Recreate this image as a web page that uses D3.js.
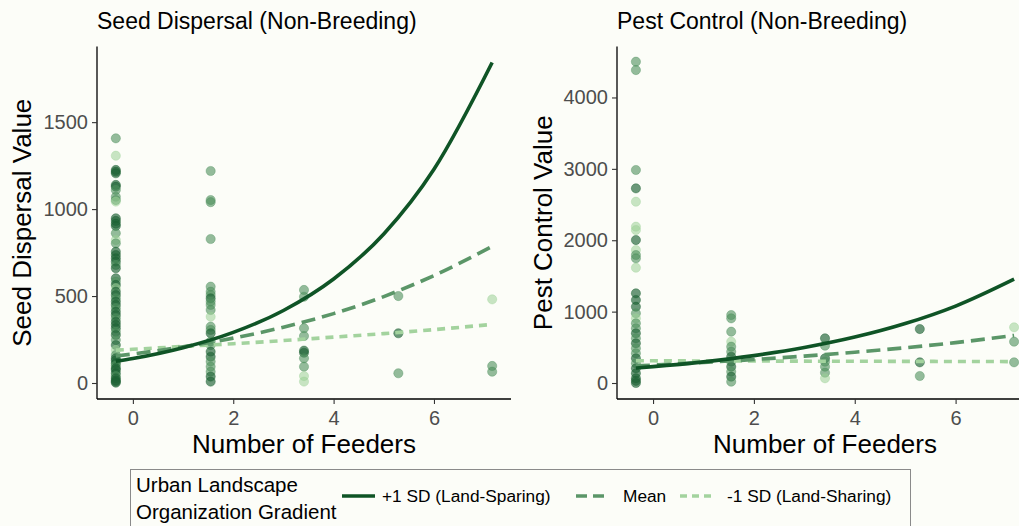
<!DOCTYPE html>
<html><head><meta charset="utf-8">
<script src="https://cdn.jsdelivr.net/npm/d3@7"></script>
<style>
html,body{margin:0;padding:0;background:#fcfdf8;}
svg{display:block;font-family:"Liberation Sans",Arial,sans-serif;}
</style></head>
<body>
<svg id="chart" width="1019" height="526"></svg>
<script>
// ---- DATA ----
const feederLevels = [-0.34, 1.55, 3.41, 5.29, 7.16];
// points per feeder level: [value, shade] shade 0=dark(+1SD),1=mid(mean),2=light(-1SD)
const seedCols = [
  [[1407,1],[1307,2],[1225,0],[1215,0],[1206,0],[1139,0],[1129,0],[1110,1],[1071,1],[1052,1],[1043,2],
   [947,0],[932,0],[916,0],[903,0],[861,1],[822,2],[803,1],[755,0],[736,0],[717,0],[698,0],[679,1],[660,0],
   [602,0],[583,1],[564,0],[545,2],[525,0],[506,0],[487,1],[468,0],[449,0],[430,1],[410,0],[391,0],
   [372,1],[352,0],[334,0],[315,0],[295,1],[276,0],[247,1],[218,0],[190,2],[161,1],[142,0],[130,0],[113,0],
   [100,1],[85,0],[75,0],[56,0],[40,1],[27,0],[15,0],[8,0],[2,0]],
  [[1219,1],[1052,1],[1040,1],[828,1],[554,1],[525,1],[506,1],[487,0],[468,1],[449,1],[420,1],[381,2],
   [324,1],[305,1],[286,0],[238,1],[218,1],[180,0],[151,0],[123,1],[94,1],[65,1],[37,0],[8,0]],
  [[535,1],[496,1],[315,1],[270,1],[186,0],[174,0],[142,1],[94,1],[40,2],[8,2]],
  [[500,1],[286,0],[56,1]],
  [[481,2],[98,1],[65,1]]
];
const pestCols = [
  [[4501,1],[4384,1],[2984,1],[2727,0],[2540,2],[2190,2],[2143,2],[2003,0],[1863,2],[1793,1],[1747,1],[1615,2],
   [1256,0],[1163,0],[1069,0],[976,1],[906,2],[836,1],[766,1],[696,0],[626,1],[556,0],[486,1],[416,1],
   [346,0],[276,1],[206,0],[136,0],[66,0],[30,0],[0,0]],
  [[952,1],[906,1],[719,1],[579,2],[509,1],[439,1],[368,0],[299,1],[229,0],[159,1],[89,0],[19,1]],
  [[626,0],[523,1],[346,0],[299,1],[229,1],[145,1],[66,2]],
  [[756,0],[290,0],[98,1]],
  [[780,2],[579,1],[290,1]]
];
// fitted curves
const curveX = [-0.34, 0, 1, 2, 3, 4, 5, 6, 7.16];
const seedPlus  = [125, 141, 203, 291, 417, 598, 857, 1229, 1843];
const seedMean  = [155, 167, 208, 258, 321, 399, 497, 618, 786];
const seedMinus = [189, 194, 210, 226, 244, 264, 284, 307, 337];
const pestPlus  = [210, 229, 296, 384, 497, 643, 833, 1078, 1455];
const pestMean  = [240, 251, 288, 329, 377, 432, 494, 566, 666];
const pestMinus = [312, 311, 309, 308, 306, 305, 303, 302, 300];
const xTicks = [0, 2, 4, 6];
const seedYTicks = [0, 500, 1000, 1500];
const pestYTicks = [0, 1000, 2000, 3000, 4000];
const legendLabels = ["+1 SD (Land-Sparing)", "Mean", "-1 SD (Land-Sharing)"];

// ---- STYLE ----
const lineColors = ["#0f5426", "#5b9668", "#a3d39e"];
const lineDash = [null, "14,7", "8,6"];
const ptColors = ["#1d6234", "#4d8f5c", "#9bd096"];
const ptOpacity = [0.65, 0.6, 0.55];

const svg = d3.select("#chart");
svg.append("rect").attr("width",1019).attr("height",526).attr("fill","#fcfdf8");

function panel(opts){
  const {x0,x1,yDomain,cols,curves,yTicks,title,yTitle,yTitleX} = opts;
  const top = 46.5, bottom = 399;
  const x = d3.scaleLinear().domain([-0.715, 7.535]).range([x0, x1]);
  const y = d3.scaleLinear().domain(yDomain).range([bottom, top]);
  const g = svg.append("g");
  const pts = [];
  cols.forEach((c,i)=>c.forEach(p=>pts.push({x:feederLevels[i], y:p[0], s:p[1]})));
  g.selectAll("circle").data(pts).join("circle")
    .attr("cx",d=>x(d.x)).attr("cy",d=>y(d.y)).attr("r",4.6)
    .attr("fill",d=>ptColors[d.s]).attr("fill-opacity",d=>ptOpacity[d.s])
    .attr("stroke",d=>ptColors[d.s]).attr("stroke-opacity",d=>ptOpacity[d.s]*0.8).attr("stroke-width",0.8);
  const line = d3.line().x(d=>x(d[0])).y(d=>y(d[1])).curve(d3.curveMonotoneX);
  [2,1,0].forEach(k=>{
    g.append("path").datum(curveX.map((v,i)=>[v, curves[k][i]]))
      .attr("d",line).attr("fill","none").attr("stroke",lineColors[k])
      .attr("stroke-width",3.6).attr("stroke-dasharray",lineDash[k]);
  });
  const fmt = d3.format("d");
  const ax = g.append("g").attr("transform",`translate(0,${bottom})`)
    .call(d3.axisBottom(x).tickValues(xTicks).tickFormat(fmt).tickSize(5).tickPadding(7).tickSizeOuter(0));
  const ay = g.append("g").attr("transform",`translate(${x0},0)`)
    .call(d3.axisLeft(y).tickValues(yTicks).tickFormat(fmt).tickSize(5).tickPadding(4).tickSizeOuter(0));
  [ax,ay].forEach(a=>{
    a.select(".domain").attr("stroke","#000").attr("stroke-width",1.3);
    a.selectAll(".tick line").attr("stroke","#333").attr("stroke-width",1.1);
    a.selectAll(".tick text").attr("fill","#4d4d4d").style("font-size","20px")
      .style("font-family","'Liberation Sans',Arial,sans-serif");
  });
  ax.select(".domain").attr("d",`M${x0},0H${x1}`);
  ay.select(".domain").attr("d",`M0,${bottom}V${top}`);
  svg.append("text").attr("x",x0).attr("y",29).attr("font-size",23).attr("fill","#000").text(title);
  svg.append("text").attr("x",(x0+x1)/2).attr("y",453).attr("text-anchor","middle")
    .attr("font-size",26).attr("fill","#000").text("Number of Feeders");
  svg.append("text").attr("transform",`translate(${yTitleX},${(top+bottom)/2}) rotate(-90)`)
    .attr("text-anchor","middle").attr("font-size",26).attr("fill","#000").text(yTitle);
}

panel({x0:97, x1:511, yDomain:[-92,1935], cols:seedCols, curves:[seedPlus,seedMean,seedMinus],
  yTicks:seedYTicks, title:"Seed Dispersal (Non-Breeding)", yTitle:"Seed Dispersal Value", yTitleX:31});
panel({x0:617, x1:1033, yDomain:[-224,4714], cols:pestCols, curves:[pestPlus,pestMean,pestMinus],
  yTicks:pestYTicks, title:"Pest Control (Non-Breeding)", yTitle:"Pest Control Value", yTitleX:552});

// legend
const lg = svg.append("g");
lg.append("rect").attr("x",130.5).attr("y",469.5).attr("width",780).attr("height",70)
  .attr("fill","#fcfdf8").attr("stroke","#8a8a8a").attr("stroke-width",1);
lg.append("text").attr("x",136).attr("y",492).attr("font-size",20.5).text("Urban Landscape");
lg.append("text").attr("x",136).attr("y",519).attr("font-size",20.5).text("Organization Gradient");
const keyX = [342, 576, 680];
const labX = [382, 623, 727];
const keyY = 496;
legendLabels.forEach((t,k)=>{
  lg.append("line").attr("x1",keyX[k]).attr("x2",keyX[k]+33).attr("y1",keyY).attr("y2",keyY)
    .attr("stroke",lineColors[k]).attr("stroke-width",3.6)
    .attr("stroke-dasharray", k===0?null:(k===1?"11,6":"7,5"));
  lg.append("text").attr("x",labX[k]).attr("y",keyY+6).attr("font-size",17.3).attr("fill","#000").text(t);
});
</script>
</body></html>
